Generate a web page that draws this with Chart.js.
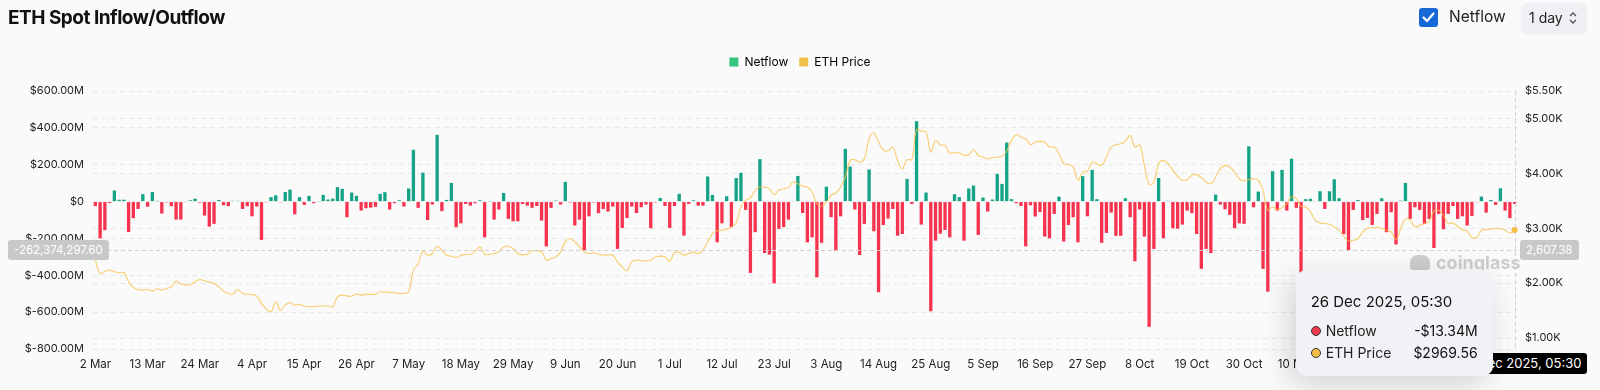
<!DOCTYPE html>
<html>
<head>
<meta charset="utf-8">
<script src="https://cdn.jsdelivr.net/npm/chart.js@4.4.0/dist/chart.umd.min.js"></script>
<style>
html, body { margin: 0; padding: 0; background: #fafafa; font-family: Inter, 'Noto Sans', sans-serif; }
#wrap { position: relative; width: 1600px; height: 390px; overflow: hidden; }
#chart { position: absolute; left: 0; top: 0; }
.title { position: absolute; left: 8px; top: 6px; font-size: 19px; font-weight: 700; color: #111; letter-spacing: -0.5px; }
.check { position: absolute; left: 1419px; top: 8px; width: 19px; height: 19px; background: #1668d6; border-radius: 3px; }
.checkTxt { position: absolute; left: 1449px; top: 7px; font-size: 15.5px; color: #222; }
.sel { position: absolute; left: 1521px; top: 3px; width: 66px; height: 30px; background: #eef0f3; border-radius: 6px; box-shadow: 0 1px 2px rgba(0,0,0,0.06); }
.sel span { position: absolute; left: 8px; top: 6px; font-size: 14px; color: #222; }
.sel svg { position: absolute; left: 47px; top: 8px; }
.lbl { position: absolute; font-size: 11.5px; line-height: 20px; height: 20px; padding: 0 6px; border-radius: 3px; color: #fff; background: #c8c8c8; white-space: nowrap; }
#lblBottom { background: #000; line-height: 21px; height: 21px; font-size: 13px; }
#wm { position: absolute; color: #cdcdcd; font-weight: 700; font-size: 18px; white-space: nowrap; }
#wm i { display: inline-block; width: 20px; height: 15px; background: #cdcdcd; border-radius: 8px 8px 3px 3px; margin-right: 6px; vertical-align: -1px; }
#tip { position: absolute; width: 197px; height: 106px; background: #f1f2f5; border-radius: 10px; box-shadow: -6px 8px 30px rgba(0,0,0,0.16); font-size: 14px; color: #222; }
#tip .t { position: absolute; left: 15px; top: 22px; color: #111; font-size: 15px; }
#tip .r { position: absolute; left: 15px; width: 167px; }
#tip .r b { display: inline-block; width: 8px; height: 8px; border-radius: 50%; border: 1px solid #333; vertical-align: 0px; margin-right: 5px; }
#tip .r em { font-style: normal; position: absolute; right: 0; top: 0; color: #111; }
</style>
</head>
<body>
<div id="wrap">
  <canvas id="chart" width="1600" height="390"></canvas>
  <div class="title">ETH Spot Inflow/Outflow</div>
  <div class="check"><svg width="19" height="19" viewBox="0 0 19 19"><polyline points="4.5,9.5 8,13 14.5,5.5" fill="none" stroke="#fff" stroke-width="2.2" stroke-linecap="round" stroke-linejoin="round"/></svg></div>
  <div class="checkTxt">Netflow</div>
  <div class="sel"><span>1 day</span><svg width="10" height="14" viewBox="0 0 10 14"><polyline points="2,5 5,2 8,5" fill="none" stroke="#555" stroke-width="1.3"/><polyline points="2,9 5,12 8,9" fill="none" stroke="#555" stroke-width="1.3"/></svg></div>
  <div id="wm"><i></i>coinglass</div>
  <div id="lblLeft" class="lbl"></div>
  <div id="lblRight" class="lbl"></div>
  <div id="lblBottom" class="lbl"></div>
  <div id="tip">
    <div class="t" id="tipTitle"></div>
    <div class="r" style="top:52px"><b style="background:#f0384f"></b>Netflow<em id="tipNet"></em></div>
    <div class="r" style="top:74px"><b style="background:#f3bf45"></b>ETH Price<em id="tipPrice"></em></div>
  </div>
</div>
<script>
// daily labels, 2 Mar 2025 .. 26 Dec 2025
const monthNames = ['Jan', 'Feb', 'Mar', 'Apr', 'May', 'Jun', 'Jul', 'Aug', 'Sep', 'Oct', 'Nov', 'Dec'];
const dayCount = 300;
const categories = [];
for (let i = 0; i < dayCount; i++) {
    const d = new Date(2025, 2, 2 + i);
    categories.push(d.getDate() + ' ' + monthNames[d.getMonth()]);
}
const tickEvery = 11;

// netflow in $M
const netflow = [
    -25, -200, -155, -8, 60, 10, 10, -165, -90, -40,
    40, -28, 52, 4, -65, -4, -25, -98, -98, -3,
    7, 16, -6, -76, -136, -121, 9, -20, -25, 4,
    4, -40, -25, -80, -27, -208, -4,
    24, 34, -4, 52, 65, -69, 24, -18, 31, -9,
    2, 36, 11, 16, 78, 69, -85, 49, 31, -49,
    -36, -33, -29, 42, 51, -43, -9, 7, -27, 71,
    281, -34, 157, -100, -16, 362, -52,
    9, 101, -139, -118, -13, -22, -9, 7, -194, 2,
    -98, -43, 47, -94, -107, -107, -13, -22, -34, -24,
    -103, -243, -34, 5, -16, 107, -5, -130, -98, -266,
    -80, -5, -63, -40, -54, -27, -257, -143, -89, -27,
    -62, -31, -16, -145, -5, 20, -24, -143, -24, 42,
    -185, -13, 7, -22, -22, 136, 36, -221, -118, 29,
    -139, 128, 156, -45, -387, -166, 230, -279, -288, -444,
    -148, -139, -98, 2, 139, -62, -221, -194, -411, -224,
    81, -85, -268, -80, 286, 190, -43, -290, -121, 174,
    -161, -492, -127, -92, -40, -185, -176, 123, -13,
    436, -125, 49, -595, -212, -174, -154, -194, 40, 24,
    -212, 71, 87, -181, 22, -54, 11, 150, 96, 320,
    13, -9, -24, -243, -20, -81, -56, -190, -199, -67,
    27, -217, -127, -85, -221, 138, -80, 172, 13, -224,
    -170, -60, -186, -186, 18, -85, -324, -43, -190, -680,
    -257, 128, -199, 4, -145, -147, -125, -49, -63, -176,
    -365, -257, -280, 38, -16, -42, -72, -145, -118, -121,
    300, -31, 54, -365, -489, 165, -49, 172, -49, 233,
    -34, -400, 13, 15, 2, 56, -40, 56, 121, 18,
    -176, -266, -45, 9, -100, -89, -127, -67, 18,
    -166, -58, -233, 5, 101, -94, -31, -45, -121, -94,
    -252, -67, -150, -67, -24, -94, -80, -130, -78, -4,
    27, -60, 9, -18, 72, -49, -90, -13.34
];

// ETH price in $
const ethPrice = [
    2418, 2176, 2218, 2236, 2206, 2188, 2194, 2024, 1921, 1885,
    1873, 1885, 1855, 1897, 1873, 1903, 1933, 2036, 1982, 1964,
    1976, 2024, 2067, 2042, 2018, 1994, 1933, 1855, 1812, 1800,
    1885, 1812, 1800, 1794, 1764, 1630, 1530,
    1478, 1660, 1509, 1600, 1642, 1600, 1612, 1582, 1570, 1570,
    1582, 1588, 1582, 1570, 1751, 1782, 1764, 1764, 1800, 1782,
    1800, 1794, 1800, 1842, 1836, 1830, 1824, 1812, 1812, 1842,
    2236, 2358, 2582, 2509, 2540, 2673, 2595,
    2509, 2491, 2467, 2509, 2521, 2527, 2570, 2660, 2527, 2521,
    2540, 2570, 2660, 2673, 2630, 2540, 2515, 2527, 2588, 2588,
    2570, 2418, 2449, 2479, 2570, 2751, 2812, 2751, 2660, 2570,
    2540, 2552, 2527, 2509, 2515, 2509, 2388, 2297, 2224, 2388,
    2418, 2406, 2406, 2418, 2479, 2491, 2479, 2400, 2555, 2560,
    2509, 2540, 2570, 2540, 2600, 2751, 2903, 2952, 2964, 2976,
    3024, 3097, 3388, 3509, 3551, 3691, 3751, 3751, 3721, 3612,
    3691, 3721, 3739, 3842, 3812, 3770, 3751, 3660, 3449, 3400,
    3478, 3600, 3642, 3751, 3933, 4236, 4248, 4206, 4267, 4630,
    4739, 4570, 4430, 4406, 4479, 4236, 4085, 4248, 4250,
    4794, 4770, 4751, 4388, 4600, 4521, 4509, 4370, 4376, 4376,
    4327, 4339, 4430, 4327, 4297, 4267, 4285, 4297, 4309, 4406,
    4600, 4703, 4660, 4630, 4521, 4570, 4582, 4570, 4479, 4479,
    4358, 4176, 4164, 4115, 3873, 4024, 4042, 4206, 4176, 4145,
    4297, 4479, 4521, 4539, 4582, 4691, 4479, 4521, 4145, 3800,
    3842, 4176, 4236, 4176, 4054, 3945, 3873, 3885, 3964, 3976,
    3921, 3842, 3812, 3933, 4085, 4145, 4115, 4024, 3903, 3860,
    3885, 3903, 3873, 3691, 3327, 3388, 3339, 3376, 3449, 3569,
    3539, 3400, 3388, 3297, 3145, 3097, 3085, 3073, 3024, 2964,
    2855, 2770, 2782, 2812, 2933, 2994, 3012, 3018, 2994,
    2964, 2933, 2794, 2994, 3176, 3145, 3024, 3055, 3085, 3133,
    3315, 3327, 3236, 3085, 3097, 3036, 2964, 2952, 2831, 2831,
    2964, 2976, 2988, 2994, 2994, 2964, 2915, 2969.56
];

const leftTicks = [-800, -600, -400, -200, 0, 200, 400, 600];
const rightTicks = [1000, 2000, 3000, 4000, 5000, 5500];

// hover state shown in the picture
const hoverIndex = 299;
const hoverTime = '26 Dec 2025, 05:30';
const crossNetflow = -262.3742976;
const crossNetflowText = '-262,374,297.60';
const crossPriceText = '2,607.38';

const green = '#14a386';
const red = '#f5334e';
const yellow = 'rgba(247, 194, 74, 0.8)';

// make the legend box taller so the plot starts lower
const legendSpace = {
    id: 'legendSpace',
    beforeLayout(chart) {
        const lg = chart.legend;
        if (lg && !lg._patched) {
            const fit = lg.fit;
            lg.fit = function () { fit.call(this); this.height = 46; };
            lg._patched = true;
        }
    }
};

const overlay = {
    id: 'overlay',
    afterDraw(chart) {
        const ctx = chart.ctx;
        const area = chart.chartArea;
        const x = chart.scales.x.getPixelForValue(hoverIndex);
        const y = chart.scales.y.getPixelForValue(crossNetflow);
        ctx.save();
        ctx.strokeStyle = '#cfcfcf';
        ctx.lineWidth = 1;
        ctx.setLineDash([4, 3]);
        ctx.beginPath();
        ctx.moveTo(area.left, Math.round(y) + 0.5);
        ctx.lineTo(area.right, Math.round(y) + 0.5);
        ctx.moveTo(Math.round(x) + 0.5, area.top);
        ctx.lineTo(Math.round(x) + 0.5, area.bottom);
        ctx.stroke();
        ctx.setLineDash([]);
        const py = chart.scales.y1.getPixelForValue(ethPrice[hoverIndex]);
        ctx.fillStyle = '#f3bf45';
        ctx.beginPath();
        ctx.arc(x, py, 3, 0, Math.PI * 2);
        ctx.fill();
        ctx.restore();

        const lblLeft = document.getElementById('lblLeft');
        lblLeft.textContent = crossNetflowText;
        lblLeft.style.left = '8px';
        lblLeft.style.top = (y - 10) + 'px';
        const lblRight = document.getElementById('lblRight');
        lblRight.textContent = crossPriceText;
        lblRight.style.left = (area.right + 3) + 'px';
        lblRight.style.top = (y - 10) + 'px';
        const lblBottom = document.getElementById('lblBottom');
        lblBottom.textContent = hoverTime;
        lblBottom.style.left = (x - 62) + 'px';
        lblBottom.style.top = (area.bottom + 4) + 'px';

        const wm = document.getElementById('wm');
        wm.style.left = (area.right - 107) + 'px';
        wm.style.top = (y + 2) + 'px';

        const tip = document.getElementById('tip');
        tip.style.left = (x - 219) + 'px';
        tip.style.top = (y + 20) + 'px';
        document.getElementById('tipTitle').textContent = hoverTime;
        const nv = netflow[hoverIndex];
        document.getElementById('tipNet').textContent = (nv < 0 ? '-' : '') + '$' + Math.abs(nv).toFixed(2) + 'M';
        document.getElementById('tipPrice').textContent = '$' + ethPrice[hoverIndex].toFixed(2);
    }
};

Chart.defaults.font.family = 'Inter, "Noto Sans", sans-serif';
Chart.defaults.font.size = 12;
Chart.defaults.color = '#222';

const ctx = document.getElementById('chart').getContext('2d');
const myChart = new Chart(ctx, {
    data: {
        labels: categories,
        datasets: [
            {
                type: 'bar',
                label: 'Netflow',
                data: netflow,
                yAxisID: 'y',
                order: 1,
                backgroundColor: netflow.map(v => v >= 0 ? green : red),
                categoryPercentage: 1,
                barPercentage: 0.7
            },
            {
                type: 'line',
                label: 'ETH Price',
                data: ethPrice,
                yAxisID: 'y1',
                order: 0,
                borderColor: yellow,
                borderWidth: 1.1,
                tension: 0.4,
                pointRadius: 0,
                fill: false
            }
        ]
    },
    options: {
        responsive: false,
        animation: false,
        layout: { padding: { top: 45, left: 0, right: 0, bottom: 0 } },
        plugins: {
            tooltip: { enabled: false },
            legend: {
                position: 'top',
                labels: {
                    boxWidth: 9,
                    boxHeight: 9,
                    padding: 11,
                    color: '#555',
                    font: { size: 12 },
                    generateLabels: () => [
                        { text: 'Netflow', fillStyle: '#35c57c', strokeStyle: '#35c57c', lineWidth: 0, datasetIndex: 0 },
                        { text: 'ETH Price', fillStyle: '#f3c04c', strokeStyle: '#f3c04c', lineWidth: 0, datasetIndex: 1 }
                    ]
                }
            }
        },
        scales: {
            x: {
                grid: { display: false },
                border: { display: false },
                ticks: {
                    autoSkip: false,
                    maxRotation: 0,
                    padding: 1,
                    font: { size: 11.5 },
                    callback: (v, i) => i % tickEvery === 0 ? categories[i] : null
                },
                afterFit: s => { s.height = 41; }
            },
            y: {
                position: 'left',
                min: -800,
                max: 600,
                afterBuildTicks: s => { s.ticks = leftTicks.map(v => ({ value: v })); },
                grid: { color: '#e8e8e8', drawTicks: false },
                border: { display: false, dash: [5, 4] },
                ticks: {
                    padding: 9,
                    font: { size: 11 },
                    callback: v => v === 0 ? '$0' : '$' + v.toFixed(2) + 'M'
                },
                afterFit: s => { s.width = 93; }
            },
            y1: {
                position: 'right',
                min: 800,
                max: 5500,
                afterBuildTicks: s => { s.ticks = rightTicks.map(v => ({ value: v })); },
                grid: { color: '#e8e8e8', drawTicks: false },
                border: { display: false, dash: [5, 4] },
                ticks: {
                    padding: 8,
                    font: { size: 11 },
                    callback: v => '$' + (v / 1000).toFixed(2) + 'K'
                },
                afterFit: s => { s.width = 83; }
            }
        }
    },
    plugins: [legendSpace, overlay]
});
</script>
</body>
</html>
